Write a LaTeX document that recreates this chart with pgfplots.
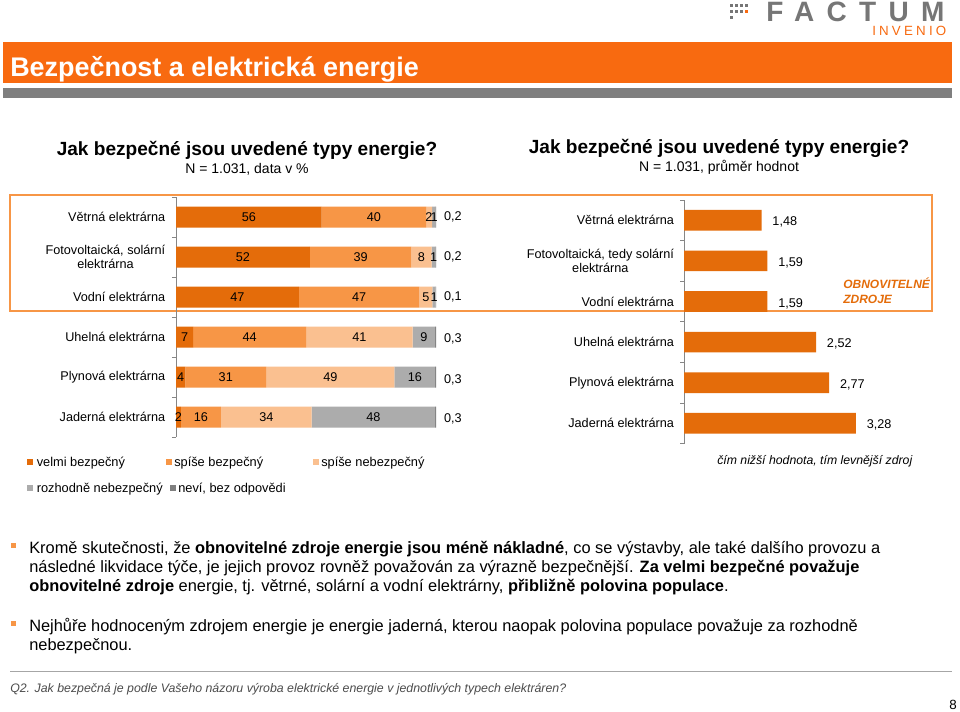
\documentclass[border=0pt]{standalone}
\usepackage{pgfplots}
\pgfplotsset{compat=1.18}
\usepackage{pgfplotstable}
\usepackage{fontspec}
\setmainfont{Liberation Sans}
\definecolor{banner}{RGB}{248,106,16}
\definecolor{cA}{RGB}{228,108,10}
\definecolor{cB}{RGB}{247,150,70}
\definecolor{cC}{RGB}{250,192,144}
\definecolor{cD}{RGB}{172,172,172}
\definecolor{cE}{RGB}{127,127,127}
\definecolor{axg}{RGB}{134,134,134}
\definecolor{logog}{RGB}{118,118,118}
\newcommand{\sz}[2]{\fontsize{#1}{#2}\selectfont}

\pgfplotstableread{
y v1 v2 v3 v4 v5
5 56.0 40.2 2.3 1.3 0.2
4 51.5 39.0 7.8 1.5 0.2
3 47.3 46.3 5.0 1.3 0.1
2 6.6 43.4 41.0 8.7 0.3
1 3.6 31.1 49.3 15.7 0.3
0 1.9 15.4 34.9 47.5 0.3
}\safety

\pgfplotstableread{
x y lab
28.0 5 56
76.1 5 40
97.3 5 2
99.3 5 1
106.5 5 0,2
25.75 4 52
71.0 4 39
94.4 4 8
99.05 4 1
106.5 4 0,2
23.65 3 47
70.45 3 47
96.1 3 5
99.25 3 1
106.5 3 0,1
3.3 2 7
28.3 2 44
70.5 2 41
95.35 2 9
106.5 1.95 0,3
1.8 1 4
19.15 1 31
59.35 1 49
91.85 1 16
106.5 0.93 0,3
0.95 0 2
9.6 0 16
34.75 0 34
75.95 0 48
106.5 -0.05 0,3
}\seglabels

\pgfplotstableread{
y v lab
5 1.48 1,48
4 1.59 1,59
3 1.59 1,59
2 2.52 2,52
1 2.77 2,77
0 3.28 3,28
}\costs

\begin{document}
\begin{tikzpicture}
\begin{scope}[x=0.75pt,y=-0.75pt]
\path[use as bounding box, fill=white] (0,0) rectangle (960,711);
% logo
\foreach \i in {0,1,2,3}{\fill[logog] (730+\i*5,4) rectangle ++(3,3);}
\foreach \i in {0,1,2}{\fill[logog] (730+\i*5,10) rectangle ++(3,3);}
\fill[banner] (745,10) rectangle ++(3,3);
\fill[logog] (730,16) rectangle ++(3,3);
\node[anchor=base west, inner sep=0, text=logog, font=\bfseries\addfontfeatures{LetterSpace=44}\sz{21pt}{22pt}] at (766,21.5) {FACTUM};
\node[anchor=base west, inner sep=0, text=banner, font=\addfontfeatures{LetterSpace=24}\sz{10pt}{11pt}] at (872,35) {INVENIO};
% banner
\fill[banner] (3,42) rectangle (952,83);
\node[anchor=base west, inner sep=0, text=white, font=\bfseries\sz{20.2pt}{24pt}] at (10,76) {Bezpečnost a elektrická energie};
\fill[cE] (3,88) rectangle (952,98);
% subtitles
\node[anchor=base, inner sep=0, font=\bfseries\sz{14.3pt}{17pt}] at (247,155) {Jak bezpečné jsou uvedené typy energie?};
\node[anchor=base, inner sep=0, font=\sz{10.5pt}{12pt}] at (247,173) {N = 1.031, data v \%};
\node[anchor=base, inner sep=0, font=\bfseries\sz{14.3pt}{17pt}] at (719,153) {Jak bezpečné jsou uvedené typy energie?};
\node[anchor=base, inner sep=0, font=\sz{10.5pt}{12pt}] at (719,171) {N = 1.031, průměr hodnot};
% frame
\draw[cB, line width=0.9pt] (10,195) rectangle (932,311);
\node[anchor=base west, inner sep=0, text=cA, font=\bfseries\itshape\sz{9pt}{11pt}] at (843,288.5) {OBNOVITELNÉ};
\node[anchor=base west, inner sep=0, text=cA, font=\bfseries\itshape\sz{9pt}{11pt}] at (843,303.5) {ZDROJE};
% note
\node[anchor=base west, inner sep=0, font=\itshape\sz{9.2pt}{11pt}] at (717,464) {čím nižší hodnota, tím levnější zdroj};
% legend
\fill[cA] (27,459) rectangle ++(6,6);
\node[anchor=base west, inner sep=0, font=\sz{9.6pt}{11pt}] at (36.5,466.5) {velmi bezpečný};
\fill[cB] (166,459) rectangle ++(6,6);
\node[anchor=base west, inner sep=0, font=\sz{9.6pt}{11pt}] at (174,466.5) {spíše bezpečný};
\fill[cC] (313,459) rectangle ++(6,6);
\node[anchor=base west, inner sep=0, font=\sz{9.6pt}{11pt}] at (321,466.5) {spíše nebezpečný};
\fill[cD] (27,485) rectangle ++(6,6);
\node[anchor=base west, inner sep=0, font=\sz{9.6pt}{11pt}] at (36.5,492.5) {rozhodně nebezpečný};
\fill[cE] (170,485) rectangle ++(6,6);
\node[anchor=base west, inner sep=0, font=\sz{9.6pt}{11pt}] at (178,492.5) {neví, bez odpovědi};
% body text
\fill[cB] (11,543) rectangle ++(5,5);
\fill[cB] (11,621) rectangle ++(5,5);
\begin{scope}[every node/.style={anchor=base west, inner sep=0, font=\sz{12.3pt}{14pt}}]
\node at (29,553) {Kromě skutečnosti, že \textbf{obnovitelné zdroje energie jsou méně nákladné}, co se výstavby, ale také dalšího provozu a};
\node at (29,572) {následné likvidace týče, je jejich provoz rovněž považován za výrazně bezpečnější. \textbf{Za velmi bezpečné považuje}};
\node at (29,591) {\textbf{obnovitelné zdroje} energie, tj. větrné, solární a vodní elektrárny, \textbf{přibližně polovina populace}.};
\node at (29,631) {Nejhůře hodnoceným zdrojem energie je energie jaderná, kterou naopak polovina populace považuje za rozhodně};
\node at (29,650) {nebezpečnou.};
\end{scope}
% footer
\draw[gray!70, line width=0.75pt] (10,671) -- (952,671);
\node[anchor=base west, inner sep=0, text=black!70, font=\itshape\sz{9.25pt}{11pt}] at (10,692) {Q2. Jak bezpečná je podle Vašeho názoru výroba elektrické energie v jednotlivých typech elektráren?};
\node[anchor=base east, inner sep=0, font=\sz{10pt}{12pt}] at (957,709) {8};
\end{scope}

% ---------- left chart: stacked bars ----------
\begin{axis}[
  at={(132pt,-327.75pt)}, anchor=south west,
  scale only axis, width=214.5pt, height=180pt,
  xbar stacked, bar width=15.75pt,
  xmin=0, xmax=110, ymin=-0.5, ymax=5.5,
  axis x line=none, axis y line*=left,
  axis line style={axg, line width=0.75pt},
  ytick={0,...,5},
  yticklabels={Jaderná elektrárna, Plynová elektrárna, Uhelná elektrárna, Vodní elektrárna, {Fotovoltaická, solární\\elektrárna}, Větrná elektrárna},
  yticklabel style={align=center, font=\sz{9.5pt}{11pt}, xshift=-4.5pt},
  major tick length=0pt,
  extra y ticks={-0.5,0.5,...,5.5}, extra y tick labels={},
  extra y tick style={major tick length=3pt, tick align=outside, tick style={axg, line width=0.75pt}},
  clip=false,
]
\addplot[fill=cA, draw=none] table[x=v1,y=y]{\safety};
\addplot[fill=cB, draw=none] table[x=v2,y=y]{\safety};
\addplot[fill=cC, draw=none] table[x=v3,y=y]{\safety};
\addplot[fill=cD, draw=none] table[x=v4,y=y]{\safety};
\addplot[fill=cE, draw=none] table[x=v5,y=y]{\safety};
\end{axis}
% ---------- left chart: labels ----------
\begin{axis}[
  at={(132pt,-327.75pt)}, anchor=south west,
  scale only axis, width=214.5pt, height=180pt,
  xmin=0, xmax=110, ymin=-0.5, ymax=5.5,
  hide axis, clip=false,
]
\addplot[draw=none, mark=none, nodes near coords, point meta=explicit symbolic,
  every node near coord/.style={anchor=center, inner sep=0pt, font=\sz{9.5pt}{11pt}}]
  table[x=x,y=y,meta=lab]{\seglabels};
\end{axis}

% ---------- right chart ----------
\begin{axis}[
  at={(513pt,-332.7pt)}, anchor=south west,
  scale only axis, width=157.2pt, height=182.7pt,
  xbar, bar width=15.5pt,
  xmin=0, xmax=4, ymin=-0.5, ymax=5.5,
  axis x line=none, axis y line*=left,
  axis line style={axg, line width=0.75pt},
  ytick={0,...,5},
  yticklabels={Jaderná elektrárna, Plynová elektrárna, Uhelná elektrárna, Vodní elektrárna, {Fotovoltaická, tedy solární\\elektrárna}, Větrná elektrárna},
  yticklabel style={align=center, font=\sz{9.5pt}{11pt}, xshift=-4pt},
  major tick length=0pt,
  extra y ticks={-0.5,0.5,...,5.5}, extra y tick labels={},
  extra y tick style={major tick length=3pt, tick align=outside, tick style={axg, line width=0.75pt}},
  clip=false,
]
\addplot[fill=cA, draw=none, nodes near coords, point meta=explicit symbolic,
  every node near coord/.style={anchor=west, inner sep=0pt, font=\sz{9.5pt}{11pt}, xshift=8pt, yshift=-1.5pt}]
  table[x=v,y=y,meta=lab]{\costs};
\end{axis}
\end{tikzpicture}
\end{document}
